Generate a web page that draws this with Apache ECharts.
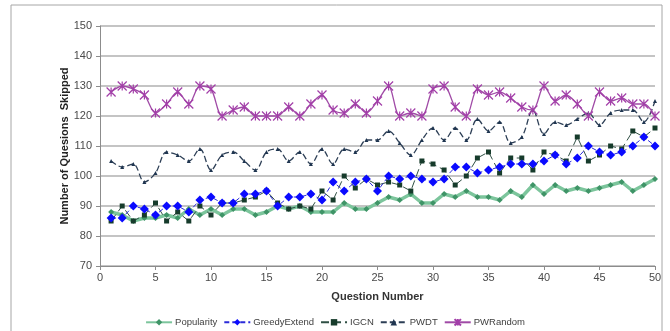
<!DOCTYPE html>
<html>
<head>
<meta charset="utf-8">
<script src="https://cdn.jsdelivr.net/npm/echarts@6/dist/echarts.min.js"></script>
<style>
  html, body { margin: 0; padding: 0; background: #fff; }
  #chart { width: 670px; height: 331px; }
</style>
</head>
<body>
<div id="chart"></div>
<script>
// Question numbers 1..50
const questions = [1,2,3,4,5,6,7,8,9,10,11,12,13,14,15,16,17,18,19,20,21,22,23,24,25,
  26,27,28,29,30,31,32,33,34,35,36,37,38,39,40,41,42,43,44,45,46,47,48,49,50];

const popularity = [88,87,85,86,86,87,86,89,87,89,87,89,89,87,88,90,89,90,88,88,88,91,89,89,91,
  93,92,94,91,91,94,93,95,93,93,92,95,93,97,94,97,95,96,95,96,97,98,95,97,99];

const greedyExtend = [86,86,90,89,87,90,90,88,92,93,91,91,94,94,95,90,93,93,94,92,98,95,98,99,95,
  100,99,100,99,98,99,103,103,101,102,103,104,104,104,105,107,104,106,110,108,107,108,110,113,110];

const igcn = [85,90,85,87,91,85,88,85,90,87,91,91,92,93,95,91,89,90,89,95,92,100,96,99,97,
  98,97,95,105,104,102,97,100,106,108,101,106,106,102,108,107,105,113,105,107,110,109,115,113,116];

const pwdt = [105,103,104,98,101,108,107,105,109,102,107,108,105,102,108,109,105,108,104,109,104,109,108,112,112,
  115,111,107,112,116,112,116,112,119,115,118,111,113,122,114,118,117,119,121,117,121,122,122,118,125];

const pwRandom = [128,130,129,127,121,124,128,124,130,129,120,122,123,120,120,120,123,120,124,127,122,121,124,121,125,
  130,120,121,120,129,130,123,120,129,127,128,126,123,122,130,125,127,124,120,128,125,126,124,124,120];

const yTicks = [70, 80, 90, 100, 110, 120, 130, 140, 150];

function pairs(values) {
  return questions.map((q, i) => [q, values[i]]);
}

// Excel-style star marker: an X crossed by a vertical stroke
const starSymbol = 'path://M0,0L10,10M10,0L0,10M5,0L5,10';

const chart = echarts.init(document.getElementById('chart'), null, { renderer: 'canvas' });

const FONT = 'Liberation Sans, Arial, sans-serif';
const labelFont = { fontFamily: FONT, fontSize: 11, color: '#4a4a4a' };

chart.setOption({
  animation: false,
  backgroundColor: '#ffffff',
  graphic: [{
    type: 'rect',
    shape: { x: 11, y: 5, width: 651, height: 340 },
    style: { fill: 'none', stroke: '#a6a6a6', lineWidth: 1 },
    silent: true,
    z: -1
  }],
  grid: { left: 100, right: 15, top: 26, bottom: 65, containLabel: false },
  xAxis: {
    type: 'value',
    min: 0, max: 50, interval: 5,
    name: 'Question Number',
    nameLocation: 'middle',
    nameGap: 25,
    nameMoveOverlap: false,
    nameTextStyle: { fontFamily: FONT, fontSize: 11, fontWeight: 'bold', color: '#333' },
    axisLine: { show: true, lineStyle: { color: '#8c8c8c', width: 1 } },
    axisTick: { show: true, length: 4, lineStyle: { color: '#8c8c8c' } },
    axisLabel: Object.assign({ margin: 6 }, labelFont),
    splitLine: { show: false }
  },
  yAxis: {
    type: 'value',
    min: yTicks[0], max: yTicks[yTicks.length - 1], interval: 10,
    name: 'Number of Quesions  Skipped',
    nameLocation: 'middle',
    nameGap: 30,
    nameMoveOverlap: false,
    nameTextStyle: { fontFamily: FONT, fontSize: 11, fontWeight: 'bold', color: '#222' },
    axisLine: { show: true, lineStyle: { color: '#8c8c8c', width: 1 } },
    axisTick: { show: true, length: 4, lineStyle: { color: '#8c8c8c' } },
    axisLabel: Object.assign({ margin: 8 }, labelFont),
    splitLine: { show: true, lineStyle: { color: '#c4c4c4', width: 2 } }
  },
  legend: {
    bottom: 3,
    left: 'center',
    padding: 0,
    itemWidth: 26,
    itemHeight: 8,
    itemGap: 6,
    textStyle: { fontFamily: FONT, fontSize: 9.5, color: '#404040', padding: [0, 0, 0, -2] },
    data: ['Popularity', 'GreedyExtend', 'IGCN', 'PWDT', 'PWRandom']
  },
  series: [
    {
      name: 'Popularity',
      type: 'line',
      data: pairs(popularity),
      symbol: 'diamond',
      symbolSize: 6,
      itemStyle: { color: '#3f9467' },
      lineStyle: { color: '#7cc59c', width: 3.5 },
      z: 2
    },
    {
      name: 'GreedyExtend',
      type: 'line',
      data: pairs(greedyExtend),
      symbol: 'diamond',
      symbolSize: 9,
      itemStyle: { color: '#0a0aff' },
      lineStyle: { color: '#2b2bd9', width: 1, type: [5, 3] },
      z: 4
    },
    {
      name: 'IGCN',
      type: 'line',
      data: pairs(igcn),
      symbol: 'rect',
      symbolSize: 5,
      itemStyle: { color: '#163b2b' },
      lineStyle: { color: '#2f4f44', width: 1, type: [8, 4] },
      z: 3
    },
    {
      name: 'PWDT',
      type: 'line',
      data: pairs(pwdt),
      smooth: 0.35,
      symbol: 'triangle',
      symbolSize: 4,
      itemStyle: { color: '#1f3550' },
      lineStyle: { color: '#2c3e55', width: 1.3, type: [6, 3] },
      z: 3
    },
    {
      name: 'PWRandom',
      type: 'line',
      data: pairs(pwRandom),
      smooth: 0.3,
      symbol: starSymbol,
      symbolSize: 9,
      showSymbol: true,
      itemStyle: { color: 'none', borderColor: '#a23ea8', borderWidth: 1.2 },
      lineStyle: { color: '#a04aa6', width: 1.3 },
      z: 3
    }
  ]
});
</script>
</body>
</html>
